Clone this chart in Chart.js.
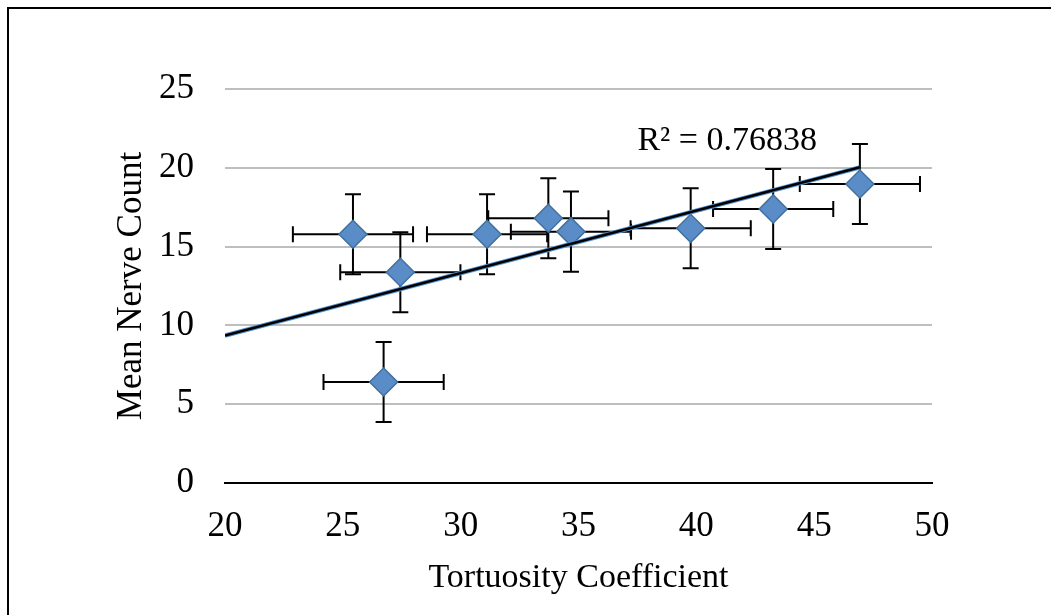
<!DOCTYPE html>
<html>
<head>
<meta charset="utf-8">
<script src="https://cdn.jsdelivr.net/npm/chart.js@4/dist/chart.umd.min.js"></script>
<style>
  body { margin: 0; background: #fff; overflow: hidden; }
  #wrap { position: relative; width: 1051px; height: 615px; }
  #frame {
    position: absolute; left: 7px; top: 7px; width: 1100px; height: 700px;
    border-left: 2px solid #000; border-top: 2px solid #000;
  }
  #c { position: absolute; left: 0; top: 0; }
</style>
</head>
<body>
<div id="wrap">
  <div id="frame"></div>
  <canvas id="c" width="1051" height="615"></canvas>
</div>
<script>
// values
const tortuosity = [25.43, 27.44, 26.73, 31.12, 33.72, 34.68, 39.76, 43.26, 46.94];
const nerveCount = [15.78, 13.37, 6.41, 15.78, 16.8, 15.95, 16.16, 17.39, 18.97];
const xError = [2.55, 2.55, 2.55, 2.55, 2.55, 2.55, 2.55, 2.55, 2.55];
const yError = [2.54, 2.54, 2.54, 2.54, 2.54, 2.54, 2.54, 2.54, 2.54];

// trendline ends
const trendX = [20, 46.94];
const trendY = [9.35, 20.03];

const rSquaredText = "R² = 0.76838";
const rLabelX = 37.5;
const rLabelY = 21.13;

const xTicks = [20, 25, 30, 35, 40, 45, 50];
const yTicks = [0, 5, 10, 15, 20, 25];

const serif = '"Liberation Serif", "Times New Roman", serif';

const points = tortuosity.map((x, i) => ({ x: x, y: nerveCount[i] }));
const trend = trendX.map((x, i) => ({ x: x, y: trendY[i] }));

const errorBars = {
  id: "errorBars",
  beforeDatasetsDraw(chart) {
    const { ctx, scales: { x, y } } = chart;
    const cap = 8;
    ctx.save();
    ctx.strokeStyle = "#000";
    ctx.lineWidth = 2;
    tortuosity.forEach((tv, i) => {
      const px = x.getPixelForValue(tv);
      const py = y.getPixelForValue(nerveCount[i]);
      const x0 = x.getPixelForValue(tv - xError[i]);
      const x1 = x.getPixelForValue(tv + xError[i]);
      const y0 = y.getPixelForValue(nerveCount[i] - yError[i]);
      const y1 = y.getPixelForValue(nerveCount[i] + yError[i]);
      ctx.beginPath();
      ctx.moveTo(x0, py); ctx.lineTo(x1, py);
      ctx.moveTo(x0, py - cap); ctx.lineTo(x0, py + cap);
      ctx.moveTo(x1, py - cap); ctx.lineTo(x1, py + cap);
      ctx.moveTo(px, y0); ctx.lineTo(px, y1);
      ctx.moveTo(px - cap, y0); ctx.lineTo(px + cap, y0);
      ctx.moveTo(px - cap, y1); ctx.lineTo(px + cap, y1);
      ctx.stroke();
    });
    ctx.restore();
  },
  afterDatasetsDraw(chart) {
    const { ctx, scales: { x, y } } = chart;
    ctx.save();
    ctx.font = "34px " + serif;
    ctx.fillStyle = "#000";
    ctx.textAlign = "left";
    ctx.textBaseline = "alphabetic";
    ctx.fillText(rSquaredText, x.getPixelForValue(rLabelX), y.getPixelForValue(rLabelY));
    ctx.restore();
  },
};

new Chart(document.getElementById("c"), {
  type: "scatter",
  data: {
    datasets: [
      {
        data: trend,
        showLine: true,
        borderColor: "#000",
        borderWidth: 2.5,
        pointRadius: 0,
        order: 0,
      },
      {
        data: trend,
        showLine: true,
        borderColor: "#4F8FD0",
        borderWidth: 4.5,
        pointRadius: 0,
        order: 1,
      },
      {
        data: points,
        pointStyle: "rectRot",
        pointRadius: 14,
        pointHoverRadius: 14,
        backgroundColor: "#5A8DC8",
        borderColor: "#41719C",
        borderWidth: 1.5,
        order: 2,
      },
    ],
  },
  options: {
    responsive: false,
    animation: false,
    devicePixelRatio: 1,
    layout: { padding: { left: 0, top: 89, right: 119, bottom: 0 } },
    plugins: { legend: { display: false }, tooltip: { enabled: false } },
    scales: {
      x: {
        type: "linear",
        min: 20,
        max: 50,
        afterBuildTicks: (s) => { s.ticks = xTicks.map((v) => ({ value: v })); },
        afterFit: (s) => { s.height = 132; },
        grid: { display: false, drawTicks: false },
        border: { display: true, color: "#000", width: 2 },
        ticks: { color: "#000", padding: 23, font: { family: serif, size: 35 } },
        title: {
          display: true,
          text: "Tortuosity Coefficient",
          color: "#000",
          font: { family: serif, size: 34 },
          padding: { top: 0, bottom: 17 },
        },
      },
      y: {
        min: 0,
        max: 25,
        afterBuildTicks: (s) => { s.ticks = yTicks.map((v) => ({ value: v })); },
        afterFit: (s) => { s.width = 225; },
        grid: {
          color: (c) => (c.tick && c.tick.value === 0 ? "rgba(0,0,0,0)" : "#BEBEBE"),
          lineWidth: 2,
          drawTicks: false,
        },
        border: { display: false },
        ticks: { color: "#000", padding: 31, font: { family: serif, size: 35 } },
        title: {
          display: true,
          text: "Mean Nerve Count",
          color: "#000",
          font: { family: serif, size: 35 },
          padding: { top: 111, bottom: 0 },
        },
      },
    },
  },
  plugins: [errorBars],
});
</script>
</body>
</html>
